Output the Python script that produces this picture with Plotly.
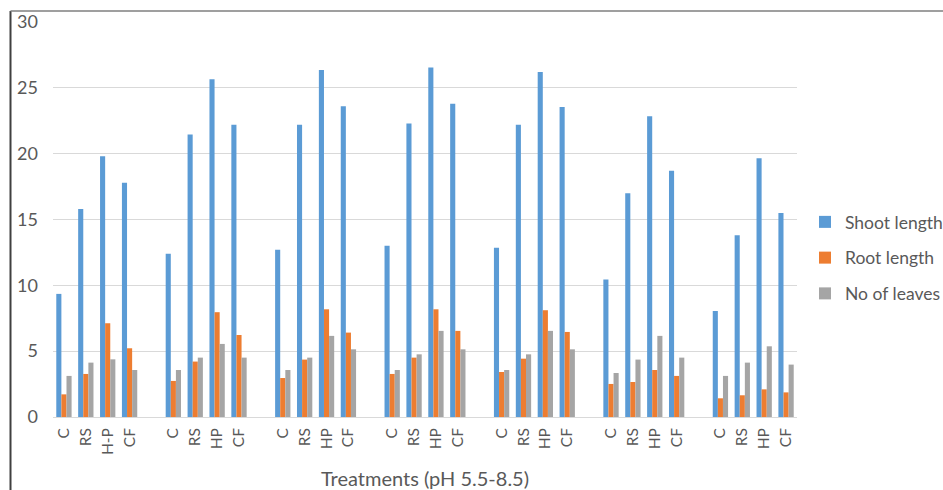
import plotly.graph_objects as go

# Treatment labels within each pH group (7 groups, pH 5.5-8.5)
group_labels = [
    ["C", "RS", "H-P", "CF"],
    ["C", "RS", "HP", "CF"],
    ["C", "RS", "HP", "CF"],
    ["C", "RS", "HP", "CF"],
    ["C", "RS", "HP", "CF"],
    ["C", "RS", "HP", "CF"],
    ["C", "RS", "HP", "CF"],
]

shoot_length = [
    9.35, 15.8, 19.8, 17.8,
    12.4, 21.45, 25.65, 22.2,
    12.7, 22.2, 26.35, 23.6,
    13.0, 22.3, 26.55, 23.8,
    12.85, 22.2, 26.2, 23.55,
    10.45, 17.0, 22.85, 18.7,
    8.05, 13.8, 19.65, 15.5,
]
root_length = [
    1.72, 3.27, 7.12, 5.22,
    2.74, 4.21, 7.96, 6.23,
    2.96, 4.36, 8.18, 6.41,
    3.27, 4.51, 8.18, 6.54,
    3.42, 4.43, 8.11, 6.46,
    2.51, 2.66, 3.57, 3.12,
    1.42, 1.65, 2.10, 1.87,
]
no_of_leaves = [
    3.12, 4.13, 4.38, 3.57,
    3.57, 4.51, 5.55, 4.51,
    3.57, 4.51, 6.16, 5.14,
    3.57, 4.76, 6.54, 5.14,
    3.57, 4.76, 6.54, 5.14,
    3.34, 4.36, 6.16, 4.51,
    3.12, 4.13, 5.37, 3.98,
]

series_names = ["Shoot length", "Root length", "No of leaves"]
series_colors = ["#5B9BD5", "#ED7D31", "#A5A5A5"]

# One empty slot separates consecutive groups on the category axis
slots_per_group = 5
x_pos, tick_text = [], []
for g, labels in enumerate(group_labels):
    for i, lab in enumerate(labels):
        x_pos.append(g * slots_per_group + i)
        tick_text.append(lab)
n_slots = len(group_labels) * slots_per_group - 1

font_family = "Lato, 'Open Sans', sans-serif"
text_gray = "#595959"

fig = go.Figure()
for k, (name, vals, col) in enumerate(
    zip(series_names, [shoot_length, root_length, no_of_leaves], series_colors)
):
    fig.add_trace(go.Bar(
        x=x_pos, y=vals, name=name, marker_color=col,
        marker_line_width=0, legendgroup=f"g{k}",
    ))

W, H = 943, 490
ml, mr, mt, mb = 53, 146, 22, 73
pw, ph = W - ml - mr, H - mt - mb

def px_x(px):
    return (px - ml) / pw

def px_y(py):
    return (H - mb - py) / ph

fig.update_layout(
    width=W, height=H,
    margin=dict(l=ml, r=mr, t=mt, b=mb, pad=0, autoexpand=False),
    paper_bgcolor="white", plot_bgcolor="white",
    barmode="group", bargap=0.3, bargroupgap=0,
    font=dict(family=font_family, color=text_gray),
    showlegend=True,
    legend=dict(
        xref="container", yref="container",
        x=805 / W, xanchor="left",
        y=(H - 258) / H, yanchor="middle",
        font=dict(size=17.5, color=text_gray),
        traceorder="grouped", tracegroupgap=10,
        bgcolor="rgba(0,0,0,0)",
    ),
    xaxis=dict(
        range=[-0.5, n_slots - 0.5], automargin=False,
        tickmode="array", tickvals=x_pos, ticktext=tick_text,
        tickangle=-90, tickfont=dict(size=15.5, color=text_gray),
        showgrid=False, zeroline=False, showline=False,
        ticks="", ticklabelstandoff=7,
        title=dict(text="Treatments (pH 5.5-8.5)",
                   font=dict(size=20, color=text_gray), standoff=20),
    ),
    yaxis=dict(
        range=[0, 30], tickmode="linear", tick0=0, dtick=5, automargin=False,
        tickfont=dict(size=18, color=text_gray),
        showgrid=True, gridcolor="#D9D9D9", gridwidth=1,
        zeroline=True, zerolinecolor="#D9D9D9", zerolinewidth=1,
        showline=False, ticks="", ticklabelstandoff=14,
    ),
    shapes=[
        # outer chart frame (left and top edges visible)
        dict(type="line", xref="paper", yref="paper",
             x0=px_x(10.5), x1=px_x(10.5), y0=px_y(11), y1=px_y(H + 20),
             line=dict(color="#404040", width=2)),
        dict(type="line", xref="paper", yref="paper",
             x0=px_x(10.5), x1=px_x(W + 20), y0=px_y(11), y1=px_y(11),
             line=dict(color="#7F7F7F", width=1.5)),
    ],
)

fig.write_html("out.html")
